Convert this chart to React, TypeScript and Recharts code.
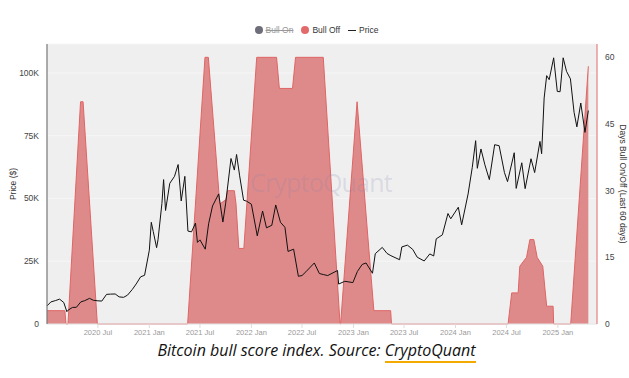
import { ComposedChart, Area, Line, XAxis, YAxis, CartesianGrid } from "recharts";

// BTC price (USD)
const priceHistory: [string, number][] = [
  ["2020-01-01", 7200], ["2020-01-15", 8800], ["2020-02-01", 9350], ["2020-02-15", 9900],
  ["2020-03-01", 8550], ["2020-03-12", 4900], ["2020-03-15", 5400], ["2020-04-01", 6600],
  ["2020-04-15", 6650], ["2020-05-01", 8800], ["2020-05-15", 9300], ["2020-06-01", 10200],
  ["2020-06-15", 9450], ["2020-07-01", 9230], ["2020-07-15", 9130], ["2020-08-01", 11800],
  ["2020-08-15", 11900], ["2020-09-01", 11950], ["2020-09-15", 10800], ["2020-10-01", 10620],
  ["2020-10-15", 11500], ["2020-11-01", 13750], ["2020-11-15", 15950], ["2020-12-01", 18800],
  ["2020-12-15", 19400], ["2021-01-01", 29400], ["2021-01-08", 40500], ["2021-01-15", 36800],
  ["2021-01-27", 30400], ["2021-02-01", 33500], ["2021-02-15", 48000], ["2021-02-21", 57500],
  ["2021-02-28", 45200], ["2021-03-15", 56000], ["2021-04-01", 58800], ["2021-04-14", 63500],
  ["2021-04-25", 49000], ["2021-05-08", 58800], ["2021-05-19", 37000], ["2021-06-01", 36700],
  ["2021-06-15", 40200], ["2021-06-22", 32500], ["2021-07-01", 33500], ["2021-07-20", 29800],
  ["2021-08-01", 39900], ["2021-08-15", 47000], ["2021-09-06", 51800], ["2021-09-21", 40600],
  ["2021-10-01", 48100], ["2021-10-20", 65900], ["2021-11-01", 61300], ["2021-11-09", 67500],
  ["2021-11-20", 59000], ["2021-12-04", 49300], ["2021-12-15", 48900], ["2022-01-01", 47700],
  ["2022-01-22", 35100], ["2022-02-10", 45000], ["2022-02-24", 38300], ["2022-03-15", 39300],
  ["2022-03-29", 47400], ["2022-04-15", 40500], ["2022-05-01", 38500], ["2022-05-12", 28900],
  ["2022-06-01", 29800], ["2022-06-18", 19000], ["2022-07-01", 19300], ["2022-07-15", 20800],
  ["2022-08-14", 24300], ["2022-09-01", 20100], ["2022-09-15", 19700], ["2022-10-01", 19300],
  ["2022-11-05", 21300], ["2022-11-09", 15900], ["2022-12-01", 17000], ["2022-12-30", 16500],
  ["2023-01-15", 20900], ["2023-02-01", 23700], ["2023-02-15", 24300], ["2023-03-10", 20200],
  ["2023-03-20", 28000], ["2023-04-14", 30500], ["2023-05-01", 28100], ["2023-05-15", 27200],
  ["2023-06-15", 25600], ["2023-06-23", 30700], ["2023-07-13", 31400], ["2023-08-01", 29700],
  ["2023-08-17", 26600], ["2023-09-11", 25100], ["2023-10-01", 27900], ["2023-10-15", 27100],
  ["2023-10-24", 33900], ["2023-11-15", 35500], ["2023-12-05", 44000], ["2023-12-15", 41900],
  ["2024-01-11", 46500], ["2024-01-23", 39500], ["2024-02-15", 51800], ["2024-03-01", 62400],
  ["2024-03-13", 73000], ["2024-03-19", 62000], ["2024-04-01", 69700], ["2024-04-15", 63400],
  ["2024-05-01", 57500], ["2024-05-20", 71400], ["2024-06-05", 71000], ["2024-06-24", 60300],
  ["2024-07-05", 56700], ["2024-07-29", 68200], ["2024-08-05", 54000], ["2024-08-25", 64200],
  ["2024-09-06", 53900], ["2024-09-27", 65800], ["2024-10-10", 60300], ["2024-10-29", 72700],
  ["2024-11-04", 67800], ["2024-11-13", 90000], ["2024-11-22", 98900], ["2024-12-01", 97300],
  ["2024-12-17", 106000], ["2024-12-30", 92600], ["2025-01-09", 92500], ["2025-01-20", 106000],
  ["2025-02-01", 100600], ["2025-02-15", 97600], ["2025-02-28", 84300], ["2025-03-10", 78500],
  ["2025-03-24", 88000], ["2025-04-08", 76300], ["2025-04-20", 85000],
];

// days "bull off" in the last 60 days
const bullOffHistory: [string, number][] = [
  ["2020-01-01", 3], ["2020-03-05", 3], ["2020-03-09", 0], ["2020-03-16", 0],
  ["2020-04-30", 50], ["2020-05-09", 50], ["2020-06-29", 0], ["2021-05-18", 0],
  ["2021-07-19", 60], ["2021-07-31", 60], ["2021-09-10", 27], ["2021-10-02", 28],
  ["2021-10-08", 30], ["2021-11-01", 30], ["2021-11-07", 27], ["2021-11-17", 17],
  ["2021-12-05", 17], ["2022-01-20", 60], ["2022-04-01", 60], ["2022-04-11", 53],
  ["2022-05-28", 53], ["2022-06-08", 60], ["2022-09-15", 60], ["2022-11-14", 0],
  ["2022-11-16", 0], ["2023-01-14", 50], ["2023-02-21", 20], ["2023-03-15", 3],
  ["2023-05-14", 3], ["2023-05-17", 0], ["2024-07-07", 0], ["2024-07-20", 7],
  ["2024-08-12", 7], ["2024-08-18", 13], ["2024-09-11", 15], ["2024-09-23", 19],
  ["2024-10-07", 19], ["2024-10-19", 15], ["2024-11-08", 13], ["2024-11-22", 4],
  ["2024-12-15", 4], ["2024-12-17", 0], ["2025-02-16", 0], ["2025-04-20", 58],
];

const xTickDates = [
  "2020-07-01", "2021-01-01", "2021-07-01", "2022-01-01", "2022-07-01",
  "2023-01-01", "2023-07-01", "2024-01-01", "2024-07-01", "2025-01-01",
];
const priceTicks = [0, 25000, 50000, 75000, 100000];
const dayTicks = [0, 15, 30, 45, 60];

const toTime = (s: string) => Date.parse(s + "T00:00:00Z");

const rowsByTime = new Map<number, { t: number; price?: number; off?: number }>();
priceHistory.forEach(([d, v]) => {
  const t = toTime(d);
  rowsByTime.set(t, { ...(rowsByTime.get(t) ?? { t }), price: v });
});
bullOffHistory.forEach(([d, v]) => {
  const t = toTime(d);
  rowsByTime.set(t, { ...(rowsByTime.get(t) ?? { t }), off: v });
});
const rows = [...rowsByTime.values()].sort((a, b) => a.t - b.t);

const fmtDate = (t: number) => {
  const d = new Date(t);
  return `${d.getUTCFullYear()} ${d.getUTCMonth() === 0 ? "Jan" : "Jul"}`;
};
const fmtPrice = (v: number) => (v === 0 ? "0" : `${v / 1000}K`);

const FONT = "'Liberation Sans', Arial, sans-serif";

export default function App() {
  return (
    <div
      style={{
        position: "absolute",
        left: 0,
        top: 0,
        width: 629,
        height: 378,
        background: "#fff",
        fontFamily: FONT,
      }}
    >
      {/* legend */}
      <div
        style={{
          position: "absolute",
          top: 25,
          left: 0,
          width: 629,
          display: "flex",
          justifyContent: "center",
          alignItems: "center",
          fontSize: 8.5,
          color: "#333",
          gap: 8,
          paddingLeft: 2,
        }}
      >
        <span style={{ display: "flex", alignItems: "center", gap: 3 }}>
          <span style={{ width: 8, height: 8, borderRadius: 4, background: "#6e6e7a" }} />
          <span style={{ color: "#999", textDecoration: "line-through" }}>Bull On</span>
        </span>
        <span style={{ display: "flex", alignItems: "center", gap: 3 }}>
          <span style={{ width: 8, height: 8, borderRadius: 4, background: "#e36a6a" }} />
          <span>Bull Off</span>
        </span>
        <span style={{ display: "flex", alignItems: "center", gap: 3 }}>
          <span style={{ width: 8, height: 1, background: "#222" }} />
          <span>Price</span>
        </span>
      </div>

      <ComposedChart
        width={629}
        height={345}
        data={rows}
        margin={{ top: 44, right: 0, bottom: 0, left: 0 }}
      >
        <CartesianGrid
          yAxisId="price"
          vertical={false}
          fill="#efefef"
          stroke="#f6f6f6"
          fillOpacity={1}
        />
        <XAxis
          dataKey="t"
          type="number"
          scale="time"
          domain={[toTime("2020-01-01"), toTime("2025-05-21")]}
          ticks={xTickDates.map(toTime)}
          tickFormatter={fmtDate}
          height={21}
          tickSize={4}
          tick={{ fontSize: 7.5, fill: "#999", fontFamily: FONT }}
          tickLine={{ stroke: "#ddd" }}
          axisLine={{ stroke: "#e4e4e4" }}
        />
        <YAxis
          yAxisId="price"
          width={47}
          domain={[0, 111500]}
          ticks={priceTicks}
          tickFormatter={fmtPrice}
          tickLine={false}
          axisLine={{ stroke: "#777", strokeWidth: 1.2 }}
          tick={{ fontSize: 8.5, fill: "#444", fontFamily: FONT }}
          label={{
            value: "Price ($)",
            angle: -90,
            position: "insideLeft",
            offset: 13,
            style: { textAnchor: "middle", fontSize: 8.5, fill: "#333", fontFamily: FONT },
          }}
        />
        <YAxis
          yAxisId="days"
          orientation="right"
          width={32}
          domain={[0, 63]}
          ticks={dayTicks}
          tickLine={false}
          axisLine={{ stroke: "#e36a6a" }}
          tick={{ fontSize: 8.5, fill: "#444", fontFamily: FONT }}
          label={{
            value: "Days Bull On/Off (Last 60 days)",
            angle: 90,
            position: "insideRight",
            offset: 6,
            style: { textAnchor: "middle", fontSize: 8.5, fill: "#333", fontFamily: FONT },
          }}
        />
        <Area
          yAxisId="days"
          dataKey="off"
          type="linear"
          connectNulls
          stroke="#e06464"
          strokeWidth={1}
          fill="#df8a8a"
          fillOpacity={1}
          isAnimationActive={false}
        />
        <Line
          yAxisId="price"
          dataKey="price"
          type="linear"
          connectNulls
          dot={false}
          stroke="#111"
          strokeWidth={1}
          isAnimationActive={false}
        />
      </ComposedChart>

      {/* watermark */}
      <div
        style={{
          position: "absolute",
          left: 250,
          top: 165,
          fontSize: 25,
          fontFamily: "'Open Sans', sans-serif",
          color: "rgba(130,130,170,0.2)",
          pointerEvents: "none",
          letterSpacing: -0.8,
        }}
      >
        CryptoQuant
      </div>

      {/* caption */}
      <div
        style={{
          position: "absolute",
          top: 339,
          left: 0,
          width: 629,
          textAlign: "center",
          fontFamily: "'Open Sans', sans-serif",
          fontStyle: "italic",
          fontSize: 16,
          color: "#111",
          paddingLeft: 2,
        }}
      >
        Bitcoin bull score index. Source:{" "}
        <span style={{ borderBottom: "2px solid #f2a900" }}>CryptoQuant</span>
      </div>
    </div>
  );
}
